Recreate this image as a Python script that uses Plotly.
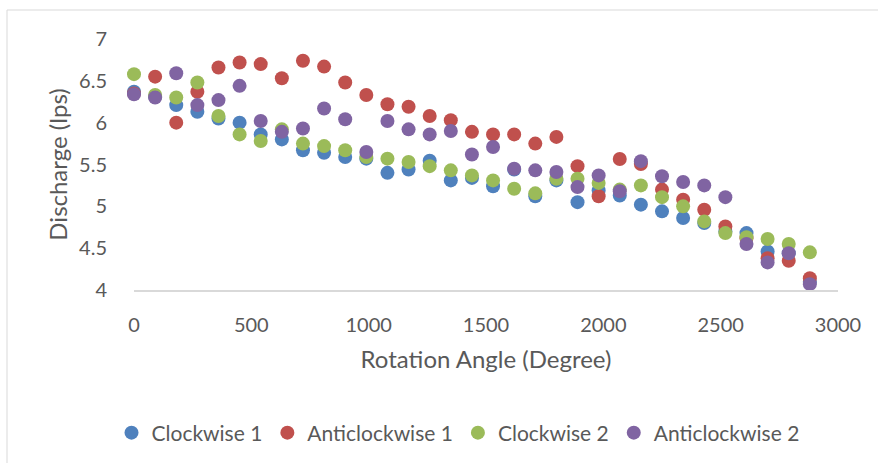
import plotly.graph_objects as go

# Rotation angle (degrees)
angles = [0, 90, 180, 270, 360, 450, 540, 630, 720, 810, 900, 990, 1080, 1170,
          1260, 1350, 1440, 1530, 1620, 1710, 1800, 1890, 1980, 2070, 2160, 2250,
          2340, 2430, 2520, 2610, 2700, 2790, 2880]

# Discharge (lps) for each run
clockwise_1 = [6.37, 6.31, 6.21, 6.13, 6.05, 6.00, 5.86, 5.80, 5.67, 5.64, 5.59,
               5.57, 5.40, 5.44, 5.545, 5.31, 5.34, 5.24, 5.44, 5.12, 5.31, 5.05,
               5.19, 5.13, 5.02, 4.94, 4.86, 4.80, 4.70, 4.68, 4.46, 4.44, 4.10]
anticlockwise_1 = [6.35, 6.55, 6.00, 6.37, 6.66, 6.72, 6.70, 6.53, 6.74, 6.67, 6.48,
                   6.33, 6.22, 6.19, 6.08, 6.03, 5.89, 5.86, 5.86, 5.75, 5.83, 5.48,
                   5.12, 5.565, 5.505, 5.20, 5.08, 4.96, 4.76, 4.62, 4.38, 4.35, 4.14]
clockwise_2 = [6.58, 6.33, 6.30, 6.48, 6.08, 5.86, 5.78, 5.92, 5.75, 5.72, 5.67,
               5.59, 5.57, 5.53, 5.48, 5.43, 5.37, 5.31, 5.21, 5.155, 5.33, 5.33,
               5.28, 5.20, 5.25, 5.11, 5.00, 4.82, 4.68, 4.63, 4.61, 4.55, 4.45]
anticlockwise_2 = [6.34, 6.30, 6.59, 6.21, 6.27, 6.44, 6.02, 5.89, 5.93, 6.17, 6.04,
                   5.65, 6.02, 5.92, 5.86, 5.90, 5.62, 5.71, 5.45, 5.43, 5.41, 5.23,
                   5.37, 5.18, 5.54, 5.36, 5.29, 5.25, 5.11, 4.55, 4.33, 4.44, 4.07]

series_names = ["Clockwise 1", "Anticlockwise 1", "Clockwise 2", "Anticlockwise 2"]
series_values = [clockwise_1, anticlockwise_1, clockwise_2, anticlockwise_2]
series_colors = ["#4F81BD", "#C0504D", "#9BBB59", "#8064A2"]

W, H = 878, 463
ML, MR, MT, MB = 134, 40, 39, 173
PW, PH = W - ML - MR, H - MT - MB

FONT = "Lato"
TEXT = "#595959"

fig = go.Figure()
for name, vals, col in zip(series_names, series_values, series_colors):
    fig.add_trace(go.Scatter(
        x=angles, y=vals, mode="markers", name=name,
        marker=dict(size=14, color=col, line=dict(width=0)),
        cliponaxis=False,
    ))

def px_x(p):
    return (p - ML) / PW

def px_y(p):
    return (H - MB - p) / PH

# chart-area border (left and top edges)
fig.add_shape(type="line", xref="paper", yref="paper",
              x0=px_x(7), x1=px_x(7), y0=px_y(10), y1=px_y(H + 5),
              line=dict(color="#D9D9D9", width=1))
fig.add_shape(type="line", xref="paper", yref="paper",
              x0=px_x(7), x1=px_x(W + 5), y0=px_y(10), y1=px_y(10),
              line=dict(color="#D9D9D9", width=1))

fig.update_layout(
    width=W, height=H,
    margin=dict(l=ML, r=MR, t=MT, b=MB, pad=0, autoexpand=False),
    paper_bgcolor="white", plot_bgcolor="white",
    font=dict(family=FONT, color=TEXT, size=20),
    showlegend=True,
    legend=dict(orientation="h", x=px_x(458), xanchor="center",
                y=px_y(433), yanchor="middle",
                font=dict(family=FONT, size=21, color=TEXT),
                itemwidth=30, tracegroupgap=0),
    xaxis=dict(range=[0, 3000], dtick=500, tick0=0, showgrid=False, zeroline=False,
               showline=True, linecolor="#D9D9D9", linewidth=1.5,
               ticks="outside", ticklen=16, tickcolor="rgba(0,0,0,0)",
               tickfont=dict(family=FONT, size=20, color=TEXT),
               title=dict(text="Rotation Angle (Degree)", standoff=16,
                          font=dict(family=FONT, size=24, color=TEXT))),
    yaxis=dict(range=[4, 7], dtick=0.5, tick0=4, showgrid=False, zeroline=False,
               showline=False,
               ticks="outside", ticklen=22, tickcolor="rgba(0,0,0,0)",
               tickfont=dict(family=FONT, size=20, color=TEXT),
               title=dict(text="Discharge (lps)", standoff=4,
                          font=dict(family=FONT, size=24, color=TEXT))),
)

fig.write_html("out.html")
